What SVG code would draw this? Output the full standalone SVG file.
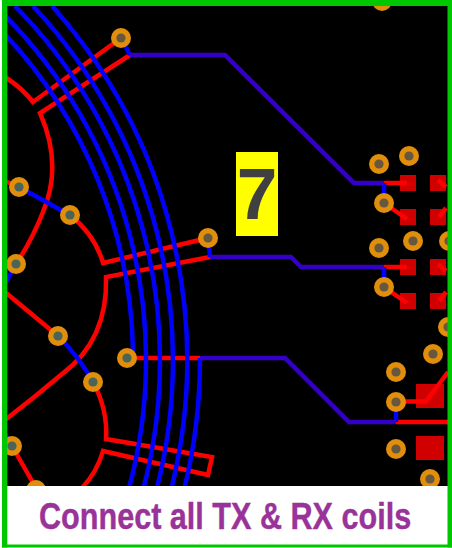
<svg xmlns="http://www.w3.org/2000/svg" width="452" height="548" viewBox="0 0 452 548">
<style>
.r{fill:none;stroke:#f00;stroke-width:4.500;stroke-linejoin:miter}
.b{fill:none;stroke:#00f;stroke-width:4.500}
.p{fill:none;stroke:#3400c8;stroke-width:4.500}
.pad{fill:#d00000}
.v{fill:#e08e0b}
.h{fill:#66583e}
.g{fill:#4a6558}
</style>
<rect width="452" height="548" fill="#fff"/>
<rect x="6" y="5" width="442" height="482" fill="#000"/>
<g id="pads">
<rect class="pad" x="400" y="175" width="16" height="16"/><rect class="pad" x="430" y="175" width="16" height="16"/>
<rect class="pad" x="400" y="209" width="16" height="16"/><rect class="pad" x="430" y="209" width="16" height="16"/>
<rect class="pad" x="400" y="259" width="16" height="16"/><rect class="pad" x="430" y="259" width="16" height="16"/>
<rect class="pad" x="400" y="293" width="16" height="16"/><rect class="pad" x="430" y="293" width="16" height="16"/>
<rect class="pad" x="416" y="384" width="28" height="24"/><rect class="pad" x="416" y="436" width="28" height="24"/>
</g>
<g id="connectors">
<path class="r" d="M121 38L33 102Q22 88 5 77"/>
<path class="r" d="M130 55L40 113Q63 165 43 212Q32 240 16 264"/>
<path class="r" d="M5 181L19 187"/>
<path class="r" d="M70 215Q95 235 103 263L208 238"/>
<path class="r" d="M210 257L106 277Q108 340 62 374Q35 397 5 420"/>
<path class="r" d="M5 292L58 336"/>
<path class="r" d="M93 382Q108 410 106 439L212 457L208 475L103 451Q97 472 82 488"/>
<path class="r" d="M12 446L36 488"/>
<path class="r" d="M127 358H200"/>
<path class="r" d="M384 183H407M384 203L407 219M438 180L446 187M446 208L439 217"/>
<path class="r" d="M384 267H407M384 287L407 303M438 264L446 271M446 292L439 301"/>
<path class="r" d="M396 422H448M396 401.500H426L448 372"/>
<path class="b" d="M52 6A532 532 0 0 1 171 490"/>
<path class="b" d="M33 6A518 518 0 0 1 156.400 490"/>
<path class="b" d="M15 6A505 505 0 0 1 143 490"/>
<path class="b" d="M4 14.600A491 491 0 0 1 128.500 490"/>
<path class="b" d="M5 34.400A478 478 0 0 1 133 351L127 358"/>
<path class="b" d="M200 358A545 545 0 0 1 184 490"/>
<path class="b" d="M121 38L130 55"/>
<path class="b" d="M19 187L70 215"/>
<path class="b" d="M58 336Q80 358 93 382"/>
<path class="b" d="M16 264L5 284M12 446L5 434"/>
<path class="b" d="M208 238L210 257"/>
<path class="b" d="M384 183V203M384 267V287M396 422V402"/>
<path class="p" d="M130 55H225L354 183H384"/>
<path class="p" d="M210 257H291L301 267H384"/>
<path class="p" d="M200 358H285L349 422H396"/>
</g>
<g id="vias">
<circle class="v" cx="121" cy="38" r="10"/><circle class="h" cx="121" cy="38" r="4.600"/>
<circle class="v" cx="19" cy="187" r="10"/><circle class="g" cx="19" cy="187" r="4.600"/>
<circle class="v" cx="70" cy="215" r="10"/><circle class="g" cx="70" cy="215" r="4.600"/>
<circle class="v" cx="16" cy="264" r="10"/><circle class="g" cx="16" cy="264" r="4.600"/>
<circle class="v" cx="208" cy="238" r="10"/><circle class="h" cx="208" cy="238" r="4.600"/>
<circle class="v" cx="58" cy="336" r="10"/><circle class="g" cx="58" cy="336" r="4.600"/>
<circle class="v" cx="93" cy="382" r="10"/><circle class="g" cx="93" cy="382" r="4.600"/>
<circle class="v" cx="127" cy="358" r="10"/><circle class="g" cx="127" cy="358" r="4.600"/>
<circle class="v" cx="12" cy="446" r="10"/><circle class="g" cx="12" cy="446" r="4.600"/>
<circle class="v" cx="36" cy="490" r="10"/>
<circle class="v" cx="382" cy="1" r="10"/>
<circle class="v" cx="379" cy="164" r="10"/><circle class="h" cx="379" cy="164" r="4.600"/>
<circle class="v" cx="409" cy="156" r="10"/><circle class="h" cx="409" cy="156" r="4.600"/>
<circle class="v" cx="384" cy="203" r="10"/><circle class="h" cx="384" cy="203" r="4.600"/>
<circle class="v" cx="379" cy="248" r="10"/><circle class="h" cx="379" cy="248" r="4.600"/>
<circle class="v" cx="413" cy="241" r="10"/><circle class="h" cx="413" cy="241" r="4.600"/>
<circle class="v" cx="449" cy="241" r="10"/><circle class="h" cx="449" cy="241" r="4.600"/>
<circle class="v" cx="384" cy="287" r="10"/><circle class="h" cx="384" cy="287" r="4.600"/>
<circle class="v" cx="448" cy="327" r="10"/><circle class="h" cx="448" cy="327" r="4.600"/>
<circle class="v" cx="433" cy="354" r="10"/><circle class="h" cx="433" cy="354" r="4.600"/>
<circle class="v" cx="396" cy="372" r="10"/><circle class="h" cx="396" cy="372" r="4.600"/>
<circle class="v" cx="396" cy="402" r="10"/><circle class="h" cx="396" cy="402" r="4.600"/>
<circle class="v" cx="396" cy="449" r="10"/><circle class="h" cx="396" cy="449" r="4.600"/>
<circle class="v" cx="430" cy="479" r="10"/><circle class="h" cx="430" cy="479" r="4.600"/>
</g>
<g id="caption">
<rect x="6" y="486" width="442" height="60" fill="#fff"/>
<text transform="translate(39 529) scale(.827 1)" font-family="'Liberation Sans',Arial,sans-serif" font-weight="700" font-size="37" fill="#993399" stroke="#993399" stroke-width=".4">Connect all TX &amp; RX coils</text>
</g>
<g id="step-label">
<rect x="236" y="152" width="42" height="84" fill="#ff0"/>
<text x="257" y="219" text-anchor="middle" font-family="'Liberation Sans',Arial,sans-serif" font-weight="700" font-size="73" fill="#404040">7</text>
</g>
<g id="frame" fill="#00c800">
<rect x="2" y="0" width="450" height="6"/>
<rect x="2" y="0" width="5.300" height="547.500"/>
<rect x="447.500" y="0" width="4.500" height="547.500"/>
<rect x="2" y="544.500" width="450" height="3"/>
</g>
</svg>
